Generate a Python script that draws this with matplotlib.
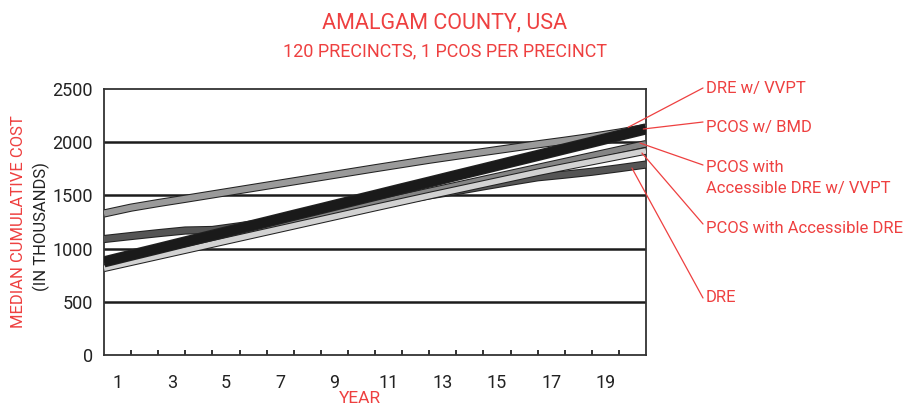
import numpy as np
import matplotlib
matplotlib.use("Agg")
import matplotlib.pyplot as plt
import matplotlib.patheffects as pe

plt.rcParams['font.family'] = ['Roboto', 'DejaVu Sans']

RED = '#ee4040'

# cumulative cost at each year boundary (0 = start .. 20 = end of year 20)
years = list(range(0, 21))
year_labels = [1, 3, 5, 7, 9, 11, 13, 15, 17, 19]

dre_vvpt = [1330, 1385, 1428, 1468, 1509, 1550, 1591, 1632, 1673, 1714, 1755,
            1795, 1835, 1872, 1908, 1944, 1980, 2014, 2050, 2090, 2135]
dre = [1090, 1118, 1145, 1170, 1175, 1210, 1248, 1290, 1330, 1372, 1415,
       1455, 1500, 1540, 1585, 1628, 1670, 1695, 1722, 1755, 1790]
pcos_acc_vvpt = [865, 921, 977, 1033, 1089, 1145, 1201, 1257, 1313, 1369, 1425,
                 1481, 1537, 1593, 1649, 1705, 1761, 1817, 1873, 1929, 1985]
pcos_acc = [815, 872, 929, 986, 1043, 1100, 1157, 1214, 1271, 1328, 1385,
            1441, 1497, 1552, 1607, 1662, 1717, 1768, 1818, 1868, 1918]
pcos_bmd = [875, 938, 1000, 1063, 1125, 1188, 1250, 1313, 1375, 1438, 1500,
            1563, 1625, 1688, 1750, 1813, 1875, 1938, 2000, 2063, 2125]

series = [
    ("DRE w/ VVPT", dre_vvpt, '#9a9a9a', 4.4),
    ("DRE", dre, '#555555', 4.4),
    ("PCOS with\nAccessible DRE w/ VVPT", pcos_acc_vvpt, '#858585', 4.0),
    ("PCOS with Accessible DRE", pcos_acc, '#d2d2d2', 4.0),
    ("PCOS w/ BMD", pcos_bmd, '#1a1a1a', 6.6),
]

fig = plt.figure(figsize=(9.07, 4.08), dpi=100)
ax = fig.add_axes([104/907, 1-355/408, (646-104)/907, (355-89)/408])

x = np.array(years) + 0.5
for name, vals, col, lw in series:
    ax.plot(x, vals, color=col, lw=lw, solid_capstyle='butt', zorder=3,
            path_effects=[pe.Stroke(linewidth=lw+1.5, foreground='#222222'), pe.Normal()])

ax.set_xlim(0.5, 20.5)
ax.set_ylim(0, 2500)
ax.set_yticks([0, 500, 1000, 1500, 2000, 2500])
for yv in [500, 1000, 1500, 2000]:
    ax.axhline(yv, color='#1c1c1c', lw=1.8, zorder=1)

ax.set_xticks(year_labels)
ax.set_xticklabels([str(v) for v in year_labels])
ax.set_xticks(np.arange(1.5, 20.0, 1.0), minor=True)
ax.tick_params(axis='x', which='major', length=0, pad=14, labelsize=13, colors='#222222')
ax.tick_params(axis='x', which='minor', direction='in', length=3.5, width=1.3, color='#222222')
ax.tick_params(axis='y', which='major', length=0, pad=8, labelsize=13, colors='#222222')
for s in ax.spines.values():
    s.set_color('#333333')
    s.set_linewidth(1.3)

fig.text(445/907, 1-28.5/408, "AMALGAM COUNTY, USA", color=RED, fontsize=15.5,
         ha='center', va='baseline')
fig.text(445/907, 1-56.5/408, "120 PRECINCTS, 1 PCOS PER PRECINCT", color=RED, fontsize=13,
         ha='center', va='baseline')
fig.text(360/907, 1-403/408, "YEAR", color=RED, fontsize=12.5, ha='center', va='baseline')
fig.text(19/907, 1-222/408, "MEDIAN CUMULATIVE COST", color=RED, fontsize=12,
         rotation=90, ha='center', va='center')
fig.text(41/907, 1-227/408, "(IN THOUSANDS)", color='#222222', fontsize=12,
         rotation=90, ha='center', va='center')

# annotation labels: (text, line end on curve (data), line start (fig px), baseline (fig px))
labels = [
    ("DRE w/ VVPT", (19.84, 2140), (703, 88), [93]),
    ("PCOS w/ BMD", (20.4, 2124), (703, 122), [132]),
    ("PCOS with", (20.28, 1992), (703, 165), [172]),
    ("Accessible DRE w/ VVPT", None, None, [193]),
    ("PCOS with Accessible DRE", (20.35, 1898), (703, 224), [233]),
    ("DRE", (19.98, 1757), (703, 298), [302]),
]
for txt, xy, start, bl in labels:
    fig.text(706/907, 1-bl[0]/408, txt, color=RED, fontsize=12, ha='left', va='baseline')
    if xy is not None:
        ax.annotate('', xy=xy, xycoords='data',
                    xytext=(start[0]/907, 1-start[1]/408), textcoords='figure fraction',
                    arrowprops=dict(arrowstyle='-', color=RED, lw=0.9, shrinkA=0, shrinkB=0),
                    annotation_clip=False, zorder=5)

fig.savefig("out.png", dpi=100)
